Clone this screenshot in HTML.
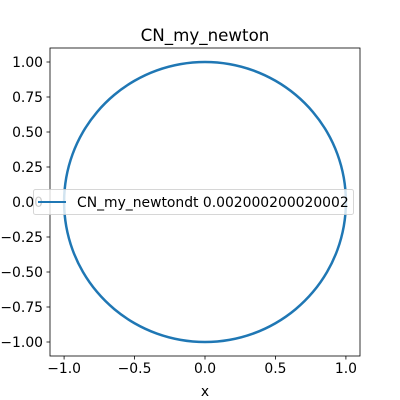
<!DOCTYPE html>
<html><head><meta charset="utf-8"><style>
html,body{margin:0;padding:0;background:#fff;}
svg{display:block;font-family:"DejaVu Sans","Liberation Sans",sans-serif;}
</style></head><body>
<svg id="chart" width="400" height="400" viewBox="0 0 400 400" xmlns="http://www.w3.org/2000/svg">
<rect x="0" y="0" width="400" height="400" fill="#fff"/>
<g id="plot"></g>
</svg>
<script>
const xTicks=[-1.0,-0.5,0.0,0.5,1.0];
const xTickLabels=["\u22121.0","\u22120.5","0.0","0.5","1.0"];
const yTicks=[1.0,0.75,0.5,0.25,0.0,-0.25,-0.5,-0.75,-1.0];
const yTickLabels=["1.00","0.75","0.50","0.25","0.00","\u22120.25","\u22120.50","\u22120.75","\u22121.00"];
const seriesX=[1,0.9848,0.9397,0.8660,0.7660,0.6428,0.5,0.3420,0.1736,0,-0.1736,-0.3420,-0.5,-0.6428,-0.7660,-0.8660,-0.9397,-0.9848,-1,-0.9848,-0.9397,-0.8660,-0.7660,-0.6428,-0.5,-0.3420,-0.1736,0,0.1736,0.3420,0.5,0.6428,0.7660,0.8660,0.9397,0.9848,1];
const seriesY=[0,0.1736,0.3420,0.5,0.6428,0.7660,0.8660,0.9397,0.9848,1,0.9848,0.9397,0.8660,0.7660,0.6428,0.5,0.3420,0.1736,0,-0.1736,-0.3420,-0.5,-0.6428,-0.7660,-0.8660,-0.9397,-0.9848,-1,-0.9848,-0.9397,-0.8660,-0.7660,-0.6428,-0.5,-0.3420,-0.1736,0];
const xMin=-1.1,xMax=1.1,yMin=-1.1,yMax=1.1;
const L=50,R=360,T=48,B=356;
const sx=v=>L+(v-xMin)/(xMax-xMin)*(R-L);
const sy=v=>B-(v-yMin)/(yMax-yMin)*(B-T);
const NS="http://www.w3.org/2000/svg";
const g=document.getElementById('plot');
function mk(tag,attrs,parent){const e=document.createElementNS(NS,tag);for(const k in attrs)e.setAttribute(k,attrs[k]);(parent||g).appendChild(e);return e;}
// smooth line (Catmull-Rom through data points; closed curve)
const P=seriesX.map((x,i)=>[sx(x),sy(seriesY[i])]);
const n=P.length;
const closed=Math.abs(P[0][0]-P[n-1][0])<0.01&&Math.abs(P[0][1]-P[n-1][1])<0.01;
function pt(i){
  if(closed){const m=n-1;return P[((i%m)+m)%m];}
  return P[Math.max(0,Math.min(n-1,i))];
}
let d='M'+P[0][0].toFixed(2)+' '+P[0][1].toFixed(2);
for(let i=0;i<n-1;i++){
  const p0=pt(i-1),p1=pt(i),p2=pt(i+1),p3=pt(i+2);
  const c1=[p1[0]+(p2[0]-p0[0])/6,p1[1]+(p2[1]-p0[1])/6];
  const c2=[p2[0]-(p3[0]-p1[0])/6,p2[1]-(p3[1]-p1[1])/6];
  d+=' C'+c1[0].toFixed(2)+' '+c1[1].toFixed(2)+' '+c2[0].toFixed(2)+' '+c2[1].toFixed(2)+' '+p2[0].toFixed(2)+' '+p2[1].toFixed(2);
}
const line=mk('path',{d:d,fill:'none',stroke:'#1f77b4','stroke-width':2.5});


// frame
const frame=mk('rect',{x:L,y:T,width:R-L,height:B-T,fill:'none',stroke:'#000','stroke-width':0.8});


xTicks.forEach((v,i)=>{
  const t=mk('line',{x1:sx(v),x2:sx(v),y1:B,y2:B+3.5,stroke:'#000','stroke-width':0.8});
  
  
  const lb=mk('text',{x:sx(v),y:B+17,'text-anchor':'middle','font-size':'13.9px',fill:'#000'});
  lb.textContent=xTickLabels[i];
  
  
});
yTicks.forEach((v,i)=>{
  const t=mk('line',{x1:L-3.5,x2:L,y1:sy(v),y2:sy(v),stroke:'#000','stroke-width':0.8});
  
  
  const lb=mk('text',{x:L-7,y:sy(v)+5,'text-anchor':'end','font-size':'13.9px',fill:'#000'});
  lb.textContent=yTickLabels[i];
  
  
});
const title=mk('text',{x:(L+R)/2,y:41,'text-anchor':'middle','font-size':'16.7px',fill:'#000'});
title.textContent='CN_my_newton';


const xl=mk('text',{x:(L+R)/2,y:396,'text-anchor':'middle','font-size':'13.9px',fill:'#000'});
xl.textContent='x';


// legend
const lg=mk('g',{});


const box=mk('rect',{x:33.5,y:189.5,width:320,height:25,rx:2,fill:'#fff','fill-opacity':0.8,stroke:'#ccc','stroke-opacity':0.8,'stroke-width':1},lg);


const ll=mk('line',{x1:38,x2:66,y1:202,y2:202,stroke:'#1f77b4','stroke-width':2},lg);


const lt=mk('text',{x:77,y:207,'font-size':'13.9px',fill:'#000'},lg);
lt.textContent='CN_my_newtondt 0.002000200020002';


</script>
</body></html>
